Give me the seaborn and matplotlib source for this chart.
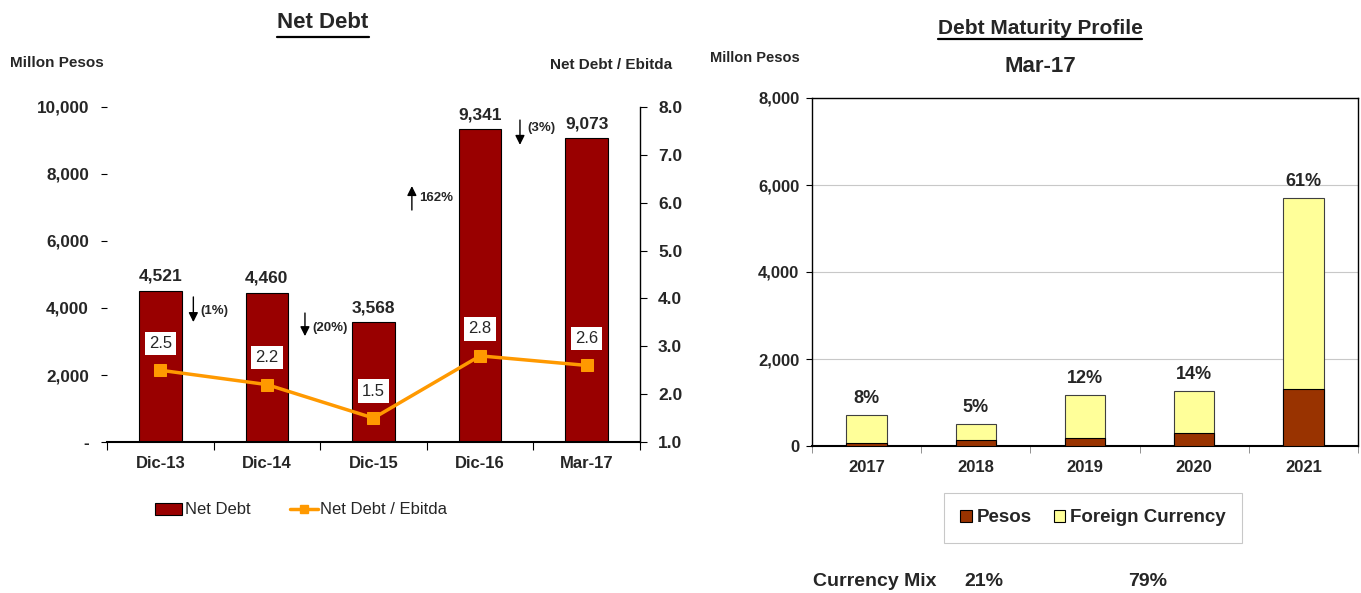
import numpy as np
import pandas as pd
import matplotlib
matplotlib.use("Agg")
import matplotlib.pyplot as plt
from matplotlib.patches import Patch
from matplotlib.lines import Line2D
from matplotlib.ticker import FuncFormatter, MultipleLocator, FixedLocator
import seaborn as sns

# ---- data -------------------------------------------------------------
periods = ["Dic-13", "Dic-14", "Dic-15", "Dic-16", "Mar-17"]
net_debt = [4521, 4460, 3568, 9341, 9073]
leverage = [2.5, 2.2, 1.5, 2.8, 2.6]
changes = ["(1%)", "(20%)", "162%", "(3%)"]

years = ["2017", "2018", "2019", "2020", "2021"]
pesos = [60, 130, 185, 300, 1300]
foreign = [653, 370, 980, 964, 4401]
mix_labels = ["21%", "79%"]

RED = "#990000"
ORANGE = "#FF9900"
BROWN = "#993300"
CREAM = "#FFFF99"

sns.set_style("white")
plt.rcParams["font.family"] = ["Liberation Sans", "DejaVu Sans"]

W, H = 1361, 593
fig = plt.figure(figsize=(W / 100, H / 100), dpi=100)


def fx(px):
    return px / W


def fy(py):
    return 1 - py / H


def underlined(x, y, s, size, y_line):
    t = fig.text(fx(x), fy(y), s, ha="center", va="center",
                 fontsize=size, fontweight="bold")
    r = fig.canvas.get_renderer()
    bb = t.get_window_extent(r)
    fig.add_artist(Line2D([bb.x0 / W, bb.x1 / W], [fy(y_line), fy(y_line)],
                          transform=fig.transFigure, color="black", lw=1.6))
    return t


# ---- left panel: net debt ----------------------------------------------
ax = fig.add_axes([fx(107), fy(442), fx(640) - fx(107), fy(107) - fy(442)])
df = pd.DataFrame({"period": periods, "debt": net_debt, "lev": leverage})
sns.barplot(data=df, x="period", y="debt", color=RED, width=0.4,
            edgecolor="black", linewidth=0.8, saturation=1, ax=ax)
ax.set_xlim(-0.5, 4.5)
ax.set_ylim(0, 10000)
ax.yaxis.set_major_locator(MultipleLocator(2000))
ax.yaxis.set_major_formatter(FuncFormatter(
    lambda v, p: "-" if v == 0 else f"{int(v):,}"))
ax.set_xlabel("")
ax.set_ylabel("")
for s in ["top", "right", "left"]:
    ax.spines[s].set_visible(False)
ax.spines["bottom"].set_color("black")
ax.spines["bottom"].set_linewidth(1.5)
ax.tick_params(axis="y", left=True, length=4, width=0.8, color="black",
               labelsize=12.3, pad=9)
for lab in ax.get_yticklabels():
    lab.set_fontweight("bold")
ax.xaxis.set_minor_locator(FixedLocator(np.arange(-0.5, 5, 1.0)))
ax.tick_params(axis="x", which="major", length=0, labelsize=12, pad=10)
ax.tick_params(axis="x", which="minor", bottom=True, length=6, width=0.8,
               color="black")
for lab in ax.get_xticklabels():
    lab.set_fontweight("bold")

for i, v in enumerate(net_debt):
    ax.annotate(f"{v:,}", (i, v), xytext=(0, 5), textcoords="offset points",
                ha="center", va="bottom", fontsize=12.5, fontweight="bold")

# period-on-period change arrows
arrow_x = [0.31, 1.357, 2.36, 3.374]
arrow_y = [(4330, 3580), (3850, 3160), (6925, 7640), (9610, 8870)]
text_y = [3910, 3400, 7280, 9370]
for xa, (y0, y1), ty, lab in zip(arrow_x, arrow_y, text_y, changes):
    ax.annotate("", xy=(xa, y1), xytext=(xa, y0),
                arrowprops=dict(arrowstyle="-|>", color="black", lw=1,
                                mutation_scale=14, shrinkA=0, shrinkB=0))
    ax.text(xa + 0.07, ty, lab, ha="left", va="center", fontsize=9.5,
            fontweight="bold")

ax2 = ax.twinx()
sns.lineplot(x=np.arange(len(periods)), y=leverage, color=ORANGE, lw=2.5,
             marker="s", markersize=8, markeredgecolor=ORANGE, ax=ax2)
ax2.set_ylim(1.0, 8.0)
ax2.set_xlim(-0.5, 4.5)
ax2.yaxis.set_major_locator(MultipleLocator(1.0))
ax2.yaxis.set_major_formatter(FuncFormatter(lambda v, p: f"{v:.1f}"))
for s in ["top", "left", "bottom"]:
    ax2.spines[s].set_visible(False)
ax2.spines["right"].set_color("black")
ax2.spines["right"].set_linewidth(1.0)
ax2.tick_params(axis="y", right=True, length=5, width=0.8, color="black",
                labelsize=12.5, pad=8)
for lab in ax2.get_yticklabels():
    lab.set_fontweight("bold")
for i, v in enumerate(leverage):
    ax2.annotate(f"{v:.1f}", (i, v), xytext=(0, 14), textcoords="offset points",
                 ha="center", va="bottom", fontsize=12,
                 bbox=dict(boxstyle="square,pad=0.25", fc="white", ec="none"))

underlined(323, 22, "Net Debt", 16, 36.5)
fig.text(fx(10), fy(63), "Millon Pesos", ha="left", va="center",
         fontsize=11, fontweight="bold")
fig.text(fx(672), fy(65), "Net Debt / Ebitda", ha="right", va="center",
         fontsize=11, fontweight="bold")

fig.legend(handles=[Patch(facecolor=RED, edgecolor="black", lw=0.8,
                          label="Net Debt"),
                    Line2D([], [], color=ORANGE, lw=2.5, marker="s",
                           markersize=6, label="Net Debt / Ebitda")],
           loc="center", bbox_to_anchor=(fx(301), fy(510)), ncol=2,
           frameon=False, fontsize=12, handlelength=1.65, handletextpad=0.15,
           columnspacing=2.4)

# ---- right panel: maturity profile ------------------------------------
bx = fig.add_axes([fx(812), fy(446), fx(1358) - fx(812), fy(98) - fy(446)])
mat = pd.DataFrame({"year": years, "pesos": pesos, "foreign": foreign})
mat["total"] = mat["pesos"] + mat["foreign"]
sns.barplot(data=mat, x="year", y="total", color=CREAM, width=0.37,
            edgecolor="#404040", linewidth=0.8, saturation=1, ax=bx, zorder=3)
sns.barplot(data=mat, x="year", y="pesos", color=BROWN, width=0.37,
            edgecolor="black", linewidth=0.8, saturation=1, ax=bx, zorder=3)
bx.set_xlim(-0.5, 4.5)
bx.set_ylim(0, 8000)
bx.yaxis.set_major_locator(MultipleLocator(2000))
bx.yaxis.set_major_formatter(FuncFormatter(lambda v, p: f"{int(v):,}"))
bx.grid(axis="y", color="#C8C8C8", lw=0.8, zorder=0)
bx.set_axisbelow(True)
bx.set_xlabel("")
bx.set_ylabel("")
for s in bx.spines.values():
    s.set_visible(True)
    s.set_color("black")
    s.set_linewidth(1.0)
bx.spines["bottom"].set_linewidth(1.5)
bx.tick_params(axis="y", left=True, length=4, width=0.8, color="black",
               labelsize=12, pad=5)
for lab in bx.get_yticklabels():
    lab.set_fontweight("bold")
bx.xaxis.set_minor_locator(FixedLocator(np.arange(-0.5, 5, 1.0)))
bx.tick_params(axis="x", which="major", length=0, labelsize=12, pad=10)
bx.tick_params(axis="x", which="minor", bottom=True, length=5, width=0.6,
               color="#808080")
for lab in bx.get_xticklabels():
    lab.set_fontweight("bold")

grand = mat["total"].sum()
for i, v in enumerate(mat["total"]):
    bx.annotate(f"{round(100 * v / grand):d}%", (i, v), xytext=(0, 6),
                textcoords="offset points", ha="center", va="bottom",
                fontsize=13, fontweight="bold")

underlined(1040, 28, "Debt Maturity Profile", 15, 39)
fig.text(fx(1040), fy(66), "Mar-17", ha="center", va="center",
         fontsize=16, fontweight="bold")
fig.text(fx(710), fy(58), "Millon Pesos", ha="left", va="center",
         fontsize=10.5, fontweight="bold")

leg = fig.legend(handles=[Patch(facecolor=BROWN, edgecolor="black", lw=0.8,
                                label="Pesos"),
                          Patch(facecolor=CREAM, edgecolor="black", lw=0.8,
                                label="Foreign Currency")],
                 loc="center", bbox_to_anchor=(fx(1093), fy(518)), ncol=2,
                 frameon=True, fancybox=False,
                 handlelength=0.6, handleheight=0.6, handletextpad=0.25,
                 columnspacing=1.2, borderpad=0.9,
                 prop={"weight": "bold", "size": 13.5})
leg.get_frame().set_edgecolor("#BBBBBB")
leg.get_frame().set_linewidth(0.8)

fig.text(fx(813), fy(582), "Currency Mix", ha="left", va="center",
         fontsize=14, fontweight="bold")
fig.text(fx(984), fy(582), mix_labels[0], ha="center", va="center",
         fontsize=14, fontweight="bold")
fig.text(fx(1148), fy(582), mix_labels[1], ha="center", va="center",
         fontsize=14, fontweight="bold")

fig.savefig("out.png", dpi=100, facecolor="white")
